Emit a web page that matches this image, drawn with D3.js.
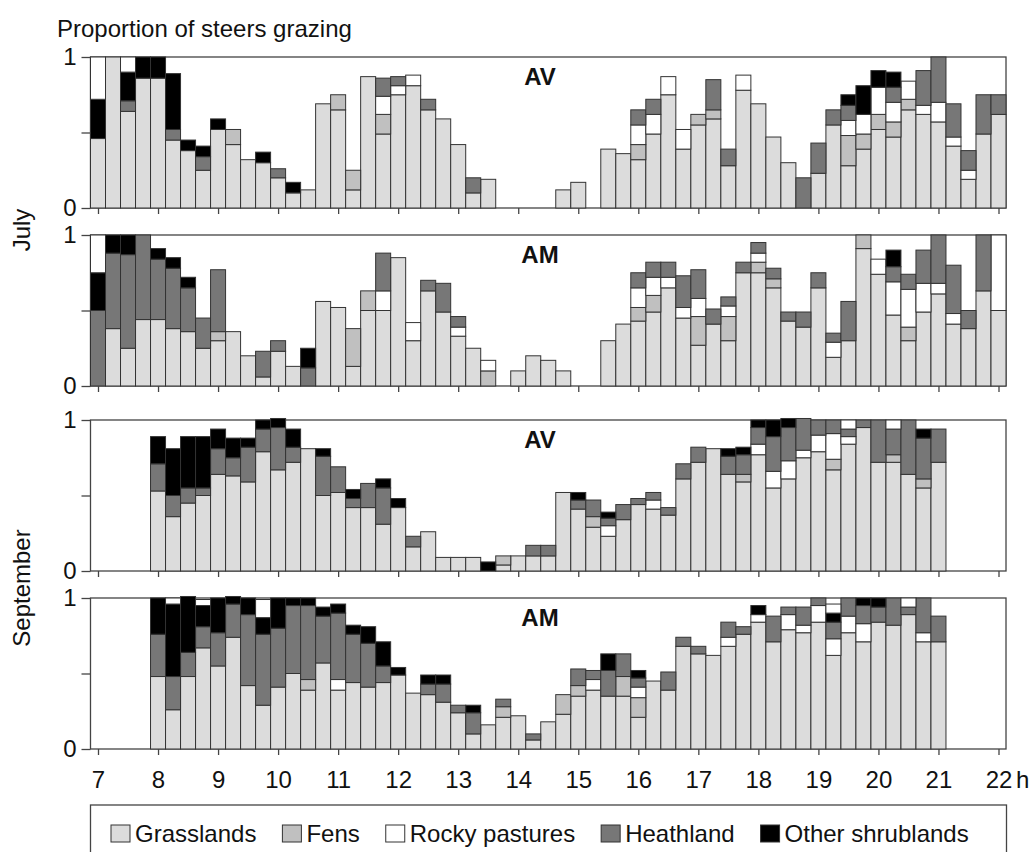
<!DOCTYPE html>
<html>
<head>
<meta charset="utf-8">
<script src="https://cdn.jsdelivr.net/npm/d3@7"></script>
<style>
  body { margin: 0; background: #fff; }
  svg { display: block; font-family: "Liberation Sans", Arial, sans-serif; }
</style>
</head>
<body>
<script>
// quarter-hour slots from 7:00 to 22:00
const times = d3.range(61).map(i => 7 + i / 4)
const hourTicks = d3.range(7, 23)
const habitats = ["Grasslands", "Fens", "Rocky pastures", "Heathland", "Other shrublands"]
const keys = ["grass", "fens", "rocky", "heath", "other", "extra"]
const colours = { grass: "#dcdcdc", fens: "#c0c0c0", rocky: "#ffffff", heath: "#777777", other: "#000000", extra: "#ffffff" }
const months = ["July", "September"]

// ---------- July AV ----------
const julAV_grass = [.46, 1, .64, .86, .86, .45, .38, .25, .52, .42, .32, .30, .20, .10, .12, .69,
  .65, .12, .87, .49, .75, .81, .65, .59, .42, .10, .19, 0, 0, 0, 0, .12,
  .17, 0, .39, .36, .32, .49, .75, .39, .55, .59, .28, .78, .69, .47, .30, 0,
  .23, .55, .28, .39, .52, .47, .65, .62, .57, .41, .19, .49, .62]
const julAV_fens = [0, 0, 0, 0, 0, 0, 0, 0, 0, .10, 0, 0, 0, 0, 0, 0,
  .10, .13, 0, .13, 0, 0, 0, 0, 0, 0, 0, 0, 0, 0, 0, 0,
  0, 0, 0, 0, .10, 0, 0, 0, .07, .06, 0, 0, 0, 0, 0, 0,
  0, 0, .20, .10, .10, .10, .07, 0, 0, 0, 0, 0, 0]
const julAV_rocky = [0, 0, 0, 0, 0, 0, 0, 0, 0, 0, 0, 0, 0, 0, 0, 0,
  0, 0, 0, .12, .06, .07, 0, 0, 0, 0, 0, 0, 0, 0, 0, 0,
  0, 0, 0, 0, .13, .13, .12, .13, 0, 0, 0, .10, 0, 0, 0, 0,
  0, 0, .10, .13, .18, .13, .12, .06, .13, .06, .06, 0, 0]
const julAV_heath = [0, 0, .07, 0, 0, .07, 0, .09, 0, 0, 0, 0, .06, 0, 0, 0,
  0, 0, 0, .12, .06, 0, .07, 0, 0, .10, 0, 0, 0, 0, 0, 0,
  0, 0, 0, 0, .10, .10, 0, 0, 0, .20, .11, 0, 0, 0, 0, .20,
  .20, .10, .10, 0, 0, .10, 0, .23, .30, .22, .13, .26, .13]
const julAV_other = [.26, 0, .19, .14, .14, .37, .07, .07, .07, 0, 0, .07, 0, .07, 0, 0,
  0, 0, 0, 0, 0, 0, 0, 0, 0, 0, 0, 0, 0, 0, 0, 0,
  0, 0, 0, 0, 0, 0, 0, 0, 0, 0, 0, 0, 0, 0, 0, 0,
  0, 0, .07, .19, .11, .10, 0, 0, 0, 0, 0, 0, 0]
const julAV_extra = [.28, 0, .10, 0, 0, 0, 0, 0, 0, 0, 0, 0, 0, 0, 0, 0,
  0, 0, 0, 0, 0, 0, 0, 0, 0, 0, 0, 0, 0, 0, 0, 0,
  0, 0, 0, 0, 0, 0, 0, 0, 0, 0, 0, 0, 0, 0, 0, 0,
  0, 0, 0, 0, 0, 0, 0, 0, 0, 0, 0, 0, 0]

// ---------- July AM ----------
const julAM_grass = [0, .38, .25, .44, .44, .38, .36, .25, .30, .36, .20, .06, .23, .13, 0, .56,
  .52, .13, .50, .50, .85, .30, .63, .49, .33, .25, 0, 0, .10, .20, .17, .10,
  0, 0, .30, .41, .43, .49, .65, .45, .27, .41, .30, .75, .75, .65, .43, .39,
  .65, .19, .30, .91, .74, .47, .30, .49, .61, .41, .38, .63, .50]
const julAM_fens = [0, 0, 0, 0, 0, 0, 0, 0, .06, 0, 0, 0, 0, 0, 0, 0,
  0, .25, .13, 0, 0, 0, 0, 0, 0, 0, .10, 0, 0, 0, 0, 0,
  0, 0, 0, 0, .09, .11, 0, 0, .19, 0, .16, 0, .07, .06, 0, 0,
  0, 0, 0, .09, 0, 0, .09, 0, 0, 0, 0, 0, 0]
const julAM_rocky = [0, 0, 0, 0, 0, 0, 0, 0, 0, 0, 0, 0, 0, 0, 0, 0,
  0, 0, 0, .13, 0, .12, 0, 0, .06, 0, .07, 0, 0, 0, 0, 0,
  0, 0, 0, 0, .13, .12, .07, .07, .12, 0, .07, 0, .06, 0, 0, 0,
  0, .10, 0, 0, .10, .22, .25, .19, .07, .07, 0, 0, .50]
const julAM_heath = [.50, .50, .62, .56, .40, .40, .29, .20, .41, 0, 0, .17, .07, 0, .12, 0,
  0, 0, 0, .25, 0, 0, .07, .19, .07, 0, 0, 0, 0, 0, 0, 0,
  0, 0, 0, 0, .10, .10, .10, .21, .19, .10, .06, .07, .07, .07, .06, .10,
  .10, .06, .26, 0, 0, .10, .10, .22, .32, .32, .12, .37, 0]
const julAM_other = [.25, .12, .13, 0, .07, .07, .07, 0, 0, 0, 0, 0, 0, 0, .13, 0,
  0, 0, 0, 0, 0, 0, 0, 0, 0, 0, 0, 0, 0, 0, 0, 0,
  0, 0, 0, 0, 0, 0, 0, 0, 0, 0, 0, 0, 0, 0, 0, 0,
  0, 0, 0, 0, 0, .11, 0, 0, 0, 0, 0, 0, 0]
const julAM_extra = [.25, 0, 0, 0, 0, 0, 0, 0, 0, 0, 0, 0, 0, 0, 0, 0,
  0, 0, 0, 0, 0, 0, 0, 0, 0, 0, 0, 0, 0, 0, 0, 0,
  0, 0, 0, 0, 0, 0, 0, 0, 0, 0, 0, 0, 0, 0, 0, 0,
  0, 0, 0, 0, 0, 0, 0, 0, 0, 0, 0, 0, 0]

// ---------- September AV ----------
const sepAV_grass = [0, 0, 0, 0, .53, .36, .45, .50, .64, .63, .59, .79, .67, .72, .81, .50,
  .52, .42, .42, .31, .42, .16, .26, .09, .09, .09, 0, .04, .10, .10, .10, .52,
  .41, .29, .23, .34, .44, .41, .37, .61, .72, .81, .64, .59, .77, .55, .61, .75,
  .79, .67, .84, .95, .72, .72, .64, .55, .72, 0, 0, 0, 0]
const sepAV_fens = [0, 0, 0, 0, 0, 0, 0, 0, 0, 0, 0, 0, 0, 0, 0, 0,
  0, 0, 0, 0, 0, 0, 0, 0, 0, 0, 0, .06, 0, 0, 0, 0,
  0, .07, 0, 0, 0, 0, 0, 0, 0, 0, 0, .05, 0, 0, 0, 0,
  0, .07, 0, 0, 0, .05, 0, .06, 0, 0, 0, 0, 0]
const sepAV_rocky = [0, 0, 0, 0, 0, 0, 0, 0, 0, 0, 0, 0, 0, 0, 0, 0,
  0, 0, 0, 0, 0, 0, 0, 0, 0, 0, 0, 0, 0, 0, 0, 0,
  0, 0, .07, 0, 0, .06, 0, 0, 0, 0, 0, 0, .07, .11, .12, .05,
  .11, .17, .05, 0, 0, 0, 0, 0, 0, 0, 0, 0, 0]
const sepAV_heath = [0, 0, 0, 0, .18, .14, .10, .05, .17, .12, .23, .15, .28, .10, 0, .26,
  .17, .06, .16, .24, 0, .07, 0, 0, 0, 0, 0, 0, 0, .07, .07, 0,
  .06, .11, .05, .10, .04, .05, .05, .10, .10, 0, .12, .13, .11, .23, .22, .21,
  .10, .09, .05, .05, .28, .17, .36, .27, .22, 0, 0, 0, 0]
const sepAV_other = [0, 0, 0, 0, .18, .31, .34, .34, .13, .13, .06, .06, .06, .12, 0, .05,
  0, .06, 0, .06, .06, 0, 0, 0, 0, 0, .06, 0, 0, 0, 0, 0,
  .05, 0, .04, 0, 0, 0, 0, 0, 0, 0, .05, .05, .05, .11, .06, 0,
  0, 0, 0, 0, 0, 0, 0, .06, 0, 0, 0, 0, 0]
const sepAV_extra = [0, 0, 0, 0, 0, 0, 0, 0, 0, 0, 0, 0, 0, 0, 0, 0,
  0, 0, 0, 0, 0, 0, 0, 0, 0, 0, 0, 0, 0, 0, 0, 0,
  0, 0, 0, 0, 0, 0, 0, 0, 0, 0, 0, 0, 0, 0, 0, 0,
  0, 0, .06, 0, 0, .06, 0, 0, 0, 0, 0, 0, 0]

// ---------- September AM ----------
const sepAM_grass = [0, 0, 0, 0, .48, .26, .48, .67, .55, .74, .42, .29, .41, .50, .39, .57,
  .39, .44, .41, .44, .49, .37, .36, .31, .24, .10, .16, .21, .22, .06, .18, .23,
  .35, .39, .35, .35, .21, .45, .39, .68, .63, .62, .68, .76, .84, .71, .79, .77,
  .84, .62, .77, .71, .84, .82, .89, .71, .71, 0, 0, 0, 0]
const sepAM_fens = [0, 0, 0, 0, 0, 0, 0, 0, 0, 0, 0, 0, 0, 0, .07, 0,
  0, 0, 0, 0, 0, 0, 0, 0, 0, 0, 0, .07, 0, 0, 0, .13,
  .07, 0, 0, .13, .13, 0, 0, 0, 0, 0, 0, 0, 0, 0, 0, 0,
  0, 0, 0, 0, 0, 0, 0, 0, 0, 0, 0, 0, 0]
const sepAM_rocky = [0, 0, 0, 0, 0, 0, 0, 0, 0, 0, 0, 0, 0, 0, 0, 0,
  .07, 0, 0, 0, 0, 0, 0, 0, 0, 0, 0, 0, 0, 0, 0, 0,
  0, .07, 0, 0, .07, 0, 0, 0, 0, 0, .06, 0, .05, 0, .10, .05,
  .11, .11, .11, .12, 0, 0, 0, .06, 0, 0, 0, 0, 0]
const sepAM_heath = [0, 0, 0, 0, .28, .22, .16, .14, .22, .22, .47, .47, .39, .45, .49, .31,
  .44, .32, .29, .11, 0, 0, .07, .12, .05, .14, 0, .05, 0, .04, 0, 0,
  .11, .06, .17, .15, .06, 0, .12, .06, .05, 0, .10, .05, 0, .17, .05, .12,
  .05, .11, .12, .12, .10, .18, .05, .23, .17, 0, 0, 0, 0]
const sepAM_other = [0, 0, 0, 0, .24, .48, .37, .14, .23, .05, .11, .11, .20, .05, .05, .06,
  .06, .06, .11, .16, .05, 0, .06, .06, 0, .05, 0, 0, 0, 0, 0, 0,
  0, 0, .11, 0, .05, 0, 0, 0, 0, 0, 0, 0, .06, 0, 0, 0,
  0, .06, 0, .05, .06, 0, 0, 0, 0, 0, 0, 0, 0]
const sepAM_extra = [0, 0, 0, 0, 0, .04, 0, .04, 0, 0, 0, .12, 0, 0, 0, 0,
  0, 0, 0, 0, 0, 0, 0, 0, 0, 0, 0, 0, 0, 0, 0, 0,
  0, 0, 0, 0, 0, 0, 0, 0, 0, 0, 0, 0, 0, 0, 0, 0,
  0, .06, 0, 0, 0, 0, .06, 0, 0, 0, 0, 0, 0]

const panels = [
  { label: "AV", top: 57, series: [julAV_grass, julAV_fens, julAV_rocky, julAV_heath, julAV_other, julAV_extra] },
  { label: "AM", top: 235, series: [julAM_grass, julAM_fens, julAM_rocky, julAM_heath, julAM_other, julAM_extra] },
  { label: "AV", top: 420, series: [sepAV_grass, sepAV_fens, sepAV_rocky, sepAV_heath, sepAV_other, sepAV_extra] },
  { label: "AM", top: 598, series: [sepAM_grass, sepAM_fens, sepAM_rocky, sepAM_heath, sepAM_other, sepAM_extra] }
]

//------------------------------------------------------------------------------

const W = 1035, H = 852
const panelH = 151
const fontSize = 24

const svg = d3.select("body").append("svg")
  .attr("width", W)
  .attr("height", H)

const x = d3.scaleLinear().domain([7, 22]).range([98, 998.5])
const half = 0.125 // half a quarter hour

svg.append("text")
  .attr("x", 57)
  .attr("y", 37)
  .attr("font-size", fontSize)
  .attr("fill", "#111")
  .text("Proportion of steers grazing")

panels.forEach((p, pi) => {
  const y = d3.scaleLinear().domain([0, 1]).range([p.top + panelH, p.top])
  const g = svg.append("g")

  const table = times.map((t, i) => {
    const row = { t: t }
    keys.forEach((k, j) => { row[k] = p.series[j][i] })
    return row
  })
  const stacked = d3.stack().keys(keys)(table)

  // frame
  g.append("rect")
    .attr("x", x(7 - half))
    .attr("y", y(1))
    .attr("width", x(22 + half) - x(7 - half))
    .attr("height", y(0) - y(1))
    .attr("fill", "none")
    .attr("stroke", "#444")
    .attr("stroke-width", 1.3)

  // bars
  g.selectAll("g.layer")
    .data(stacked)
    .join("g")
    .attr("class", "layer")
    .attr("fill", d => colours[d.key])
    .selectAll("rect")
    .data(d => d.filter(s => s[1] - s[0] > 0.001))
    .join("rect")
    .attr("x", d => x(d.data.t - half))
    .attr("width", x(7 + 2 * half) - x(7))
    .attr("y", d => y(d[1]))
    .attr("height", d => y(d[0]) - y(d[1]))
    .attr("stroke", "#333")
    .attr("stroke-width", 1)

  // y axis
  const yAxis = g.append("g")
    .attr("transform", "translate(" + x(7 - half) + ",0)")
    .call(d3.axisLeft(y).tickValues([0, 0.5, 1]).tickSize(9).tickPadding(5)
      .tickFormat(d => d === 0.5 ? "" : d3.format("d")(d)))
  yAxis.select(".domain").remove()
  yAxis.selectAll("line").attr("stroke", "#444").attr("stroke-width", 1.3)
  yAxis.selectAll("text").attr("font-size", fontSize).attr("font-family", "Liberation Sans, Arial, sans-serif").attr("fill", "#111")

  // x axis (labels only on the last panel)
  const last = pi === panels.length - 1
  const xAxis = g.append("g")
    .attr("transform", "translate(0," + y(0) + ")")
    .call(d3.axisBottom(x).tickValues(hourTicks).tickSize(6).tickPadding(16)
      .tickFormat(d => last ? d : ""))
  xAxis.select(".domain").remove()
  xAxis.selectAll("line").attr("stroke", "#444").attr("stroke-width", 1.3)
  xAxis.selectAll("text").attr("font-size", fontSize).attr("font-family", "Liberation Sans, Arial, sans-serif").attr("fill", "#111")

  // panel label
  g.append("text")
    .attr("x", 540)
    .attr("y", p.top + 28)
    .attr("text-anchor", "middle")
    .attr("font-size", fontSize)
    .attr("font-weight", "bold")
    .attr("fill", "#111")
    .text(p.label)
})

svg.append("text")
  .attr("x", 1016)
  .attr("y", 788)
  .attr("font-size", fontSize)
  .attr("fill", "#111")
  .text("h")

// month labels
const monthY = [230, 588]
months.forEach((m, i) => {
  svg.append("text")
    .attr("transform", "translate(30," + monthY[i] + ") rotate(-90)")
    .attr("text-anchor", "middle")
    .attr("font-size", fontSize)
    .attr("fill", "#111")
    .text(m)
})

//------------------------------------------------------------------------------
// legend

svg.append("rect")
  .attr("x", 90.5)
  .attr("y", 805)
  .attr("width", 916)
  .attr("height", 80)
  .attr("fill", "none")
  .attr("stroke", "#444")
  .attr("stroke-width", 1.3)

let lx = 111
habitats.forEach((h, i) => {
  svg.append("rect")
    .attr("x", lx)
    .attr("y", 825)
    .attr("width", 19)
    .attr("height", 17)
    .attr("fill", colours[keys[i]])
    .attr("stroke", "#333")
  const t = svg.append("text")
    .attr("x", lx + 24)
    .attr("y", 842)
    .attr("font-size", fontSize)
    .attr("fill", "#111")
    .text(h)
  lx = lx + 24 + t.node().getComputedTextLength() + 26
})
</script>
</body>
</html>
